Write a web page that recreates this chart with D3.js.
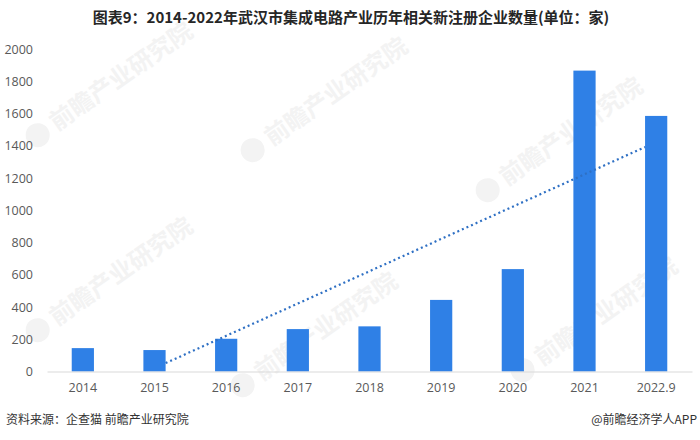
<!DOCTYPE html>
<html>
<head>
<meta charset="utf-8">
<script src="https://cdn.jsdelivr.net/npm/d3@7"></script>
<style>
  html, body { margin: 0; padding: 0; background: #fff; }
  svg { display: block; }
</style>
</head>
<body>
<svg id="chart" width="700" height="440"></svg>
<script>
const categories = ["2014", "2015", "2016", "2017", "2018", "2019", "2020", "2021", "2022.9"];
const values = [145, 133, 203, 263, 280, 444, 635, 1866, 1585];
const yTicks = [0, 200, 400, 600, 800, 1000, 1200, 1400, 1600, 1800, 2000];
const trendFrom = { cat: "2015", value: 52 };
const trendTo = { cat: "2022.9", value: 1392 };
const titleText = "图表9：2014-2022年武汉市集成电路产业历年相关新注册企业数量(单位：家)";
const sourceText = "资料来源：企查猫 前瞻产业研究院";
const brandText = "@前瞻经济学人APP";
const watermarkText = "前瞻产业研究院";

(function () {
const svg = d3.select("#chart");
const plotLeft = 47, plotRight = 692, plotTop = 49, plotBottom = 371.5;

const x = d3.scaleBand().domain(categories).range([plotLeft, plotRight])
  .paddingInner(0.69).paddingOuter(0.345);
const y = d3.scaleLinear().domain([0, 2000]).range([plotBottom, plotTop]);

// watermarks
const wm = svg.append("g").attr("class", "watermarks");
[[310, 110], [95, 95], [95, 290], [545, 150], [580, 330], [300, 345]].forEach(([cx, cy]) => {
  const g = wm.append("g").attr("transform", `translate(${cx},${cy}) rotate(-35)`);
  g.append("circle").attr("cx", -70).attr("cy", 0).attr("r", 12).attr("fill", "#f3f3f3");
  g.append("text").attr("x", -52).attr("y", 8).attr("font-size", 24)
    .attr("font-family", "Noto Sans CJK SC").attr("font-weight", "bold")
    .attr("fill", "#f3f3f3").text(watermarkText);
});

// title
svg.append("text").attr("x", 351).attr("y", 23).attr("text-anchor", "middle")
  .attr("font-family", "Noto Sans CJK SC").attr("font-weight", "bold")
  .attr("font-size", 15).attr("fill", "#262626").text(titleText);

// y axis labels
const yAxis = d3.axisLeft(y).tickValues(yTicks).tickSize(0).tickPadding(0).tickFormat(d3.format("d"));
const gy = svg.append("g").attr("transform", `translate(33,0)`).call(yAxis);
gy.select(".domain").remove();
gy.selectAll("text").attr("font-family", "Open Sans, Liberation Sans, sans-serif")
  .attr("font-size", 12.5).attr("fill", "#595959");

// bars
svg.append("g").selectAll("rect").data(categories).join("rect")
  .attr("x", d => x(d)).attr("width", x.bandwidth())
  .attr("y", (d, i) => y(values[i])).attr("height", (d, i) => plotBottom - y(values[i]))
  .attr("fill", "#2f80e6");

// x axis
const xAxis = d3.axisBottom(x).tickSize(0).tickPadding(12);
const gx = svg.append("g").attr("transform", `translate(0,${plotBottom})`).call(xAxis);
gx.select(".domain").attr("stroke", "#d9d9d9").attr("stroke-width", 1.2);
gx.selectAll("text").attr("font-family", "Open Sans, Liberation Sans, sans-serif")
  .attr("font-size", 12.5).attr("fill", "#595959");

// trend line
const trendPts = [
  [x(trendFrom.cat) + x.bandwidth(), y(trendFrom.value)],
  [x(trendTo.cat), y(trendTo.value)]
];
svg.append("path").attr("d", d3.line()(trendPts))
  .attr("fill", "none").attr("stroke", "#2f70c4").attr("stroke-width", 2.2)
  .attr("stroke-dasharray", "2,3");

// footer
svg.append("text").attr("x", 6).attr("y", 424)
  .attr("font-family", "Noto Sans CJK SC").attr("font-size", 12)
  .attr("fill", "#333").text(sourceText);
svg.append("text").attr("x", 697).attr("y", 424).attr("text-anchor", "end")
  .attr("font-family", "Noto Sans CJK SC").attr("font-size", 12)
  .attr("fill", "#333").text(brandText);
})();
</script>
</body>
</html>
